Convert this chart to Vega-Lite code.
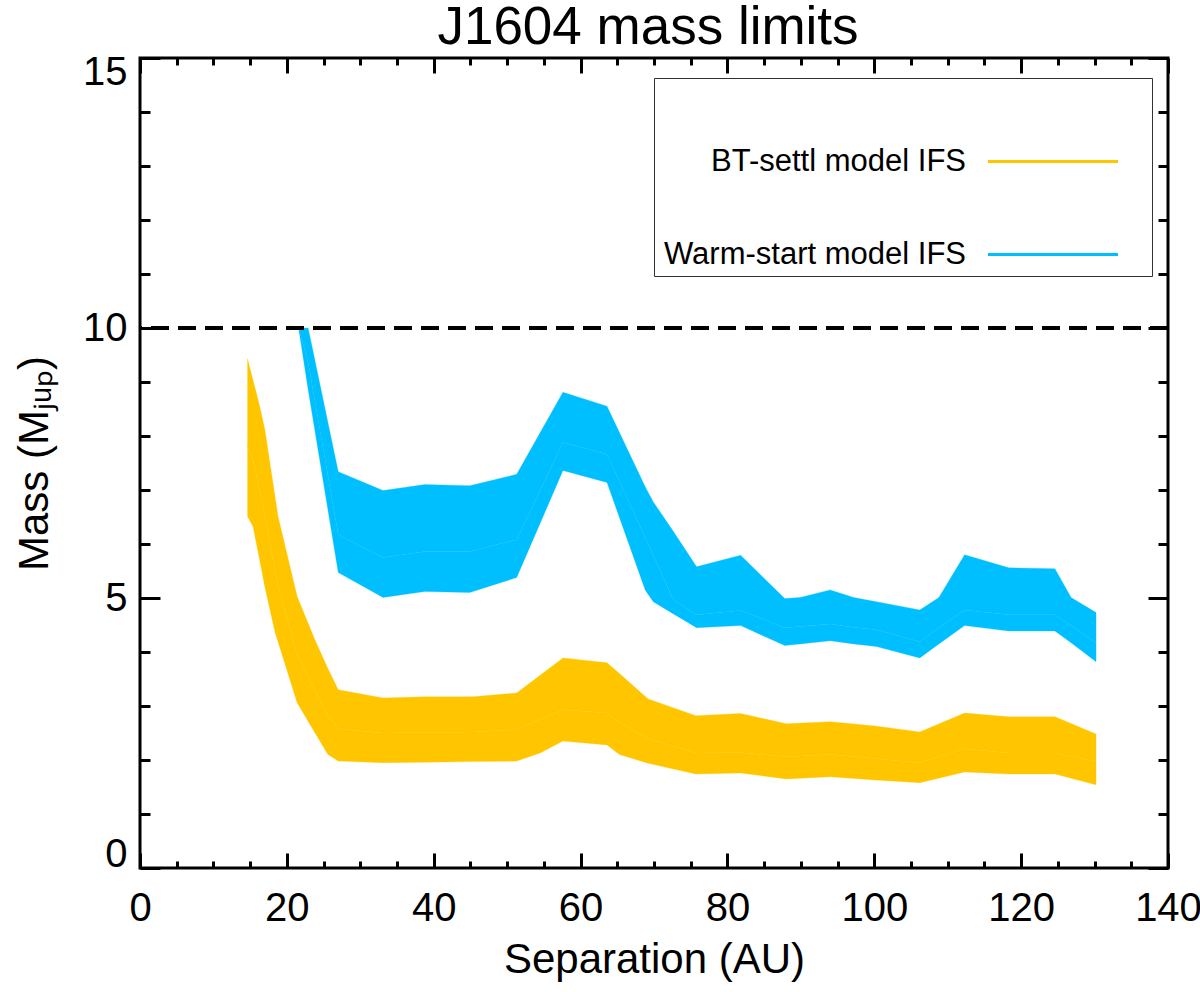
{
  "$schema": "https://vega.github.io/schema/vega-lite/v6.json",
  "width": 1028,
  "height": 810,
  "autosize": {"type": "none"},
  "padding": {"left": 140, "top": 58, "right": 32, "bottom": 124},
  "background": "white",
  "config": {
    "view": {"stroke": "black", "strokeWidth": 3},
    "font": "Liberation Sans",
    "axis": {
      "domain": false,
      "grid": false,
      "tickColor": "black",
      "tickWidth": 3,
      "labelColor": "black",
      "titleColor": "black",
      "labelFont": "Liberation Sans",
      "titleFont": "Liberation Sans",
      "labelFontSize": 40,
      "titleFontSize": 42,
      "titleFontWeight": "normal"
    },
    "legend": {
      "orient": "none",
      "legendX": 514,
      "legendY": 20,
      "direction": "vertical",
      "symbolType": "stroke",
      "symbolSize": 23104,
      "symbolStrokeWidth": 3,
      "symbolDash": [130, 100],
      "symbolOffset": 326.5,
      "labelOffset": -175.5,
      "labelAlign": "right",
      "labelFontSize": 31,
      "labelFont": "Liberation Sans",
      "labelColor": "black",
      "labelLimit": 600,
      "rowPadding": -60,
      "padding": 6,
      "strokeColor": "#333333",
      "fillColor": "white"
    }
  },
  "title": {
    "text": "J1604 mass limits",
    "fontSize": 53,
    "fontWeight": "normal",
    "font": "Liberation Sans",
    "color": "black",
    "offset": -3,
    "dx": -6
  },
  "data": {
    "values": [
      {"model": "BT-settl model IFS", "sep": 14.65, "lo": 6.51, "mid": 7.82, "hi": 9.43},
      {"model": "BT-settl model IFS", "sep": 15.4, "lo": 6.32, "mid": 7.54, "hi": 9.03},
      {"model": "BT-settl model IFS", "sep": 16.3, "lo": 5.70, "mid": 6.98, "hi": 8.55},
      {"model": "BT-settl model IFS", "sep": 17.0, "lo": 5.21, "mid": 6.52, "hi": 8.12},
      {"model": "BT-settl model IFS", "sep": 18.4, "lo": 4.36, "mid": 5.49, "hi": 6.87},
      {"model": "BT-settl model IFS", "sep": 18.8, "lo": 4.19, "mid": 5.23, "hi": 6.51},
      {"model": "BT-settl model IFS", "sep": 21.4, "lo": 3.06, "mid": 3.95, "hi": 5.03},
      {"model": "BT-settl model IFS", "sep": 23.8, "lo": 2.51, "mid": 3.28, "hi": 4.23},
      {"model": "BT-settl model IFS", "sep": 25.6, "lo": 2.10, "mid": 2.82, "hi": 3.69},
      {"model": "BT-settl model IFS", "sep": 27.0, "lo": 1.98, "mid": 2.58, "hi": 3.30},
      {"model": "BT-settl model IFS", "sep": 33.1, "lo": 1.95, "mid": 2.50, "hi": 3.15},
      {"model": "BT-settl model IFS", "sep": 38.8, "lo": 1.96, "mid": 2.51, "hi": 3.17},
      {"model": "BT-settl model IFS", "sep": 45.3, "lo": 1.97, "mid": 2.52, "hi": 3.17},
      {"model": "BT-settl model IFS", "sep": 51.3, "lo": 1.98, "mid": 2.56, "hi": 3.24},
      {"model": "BT-settl model IFS", "sep": 54.5, "lo": 2.13, "mid": 2.75, "hi": 3.57},
      {"model": "BT-settl model IFS", "sep": 57.6, "lo": 2.35, "mid": 2.93, "hi": 3.89},
      {"model": "BT-settl model IFS", "sep": 63.6, "lo": 2.28, "mid": 2.87, "hi": 3.80},
      {"model": "BT-settl model IFS", "sep": 65.3, "lo": 2.10, "mid": 2.70, "hi": 3.60},
      {"model": "BT-settl model IFS", "sep": 69.2, "lo": 1.94, "mid": 2.40, "hi": 3.13},
      {"model": "BT-settl model IFS", "sep": 75.7, "lo": 1.74, "mid": 2.13, "hi": 2.82},
      {"model": "BT-settl model IFS", "sep": 81.8, "lo": 1.76, "mid": 2.14, "hi": 2.86},
      {"model": "BT-settl model IFS", "sep": 88.0, "lo": 1.65, "mid": 2.06, "hi": 2.67},
      {"model": "BT-settl model IFS", "sep": 94.0, "lo": 1.69, "mid": 2.10, "hi": 2.71},
      {"model": "BT-settl model IFS", "sep": 100.1, "lo": 1.63, "mid": 2.03, "hi": 2.63},
      {"model": "BT-settl model IFS", "sep": 106.2, "lo": 1.58, "mid": 1.95, "hi": 2.52},
      {"model": "BT-settl model IFS", "sep": 112.3, "lo": 1.78, "mid": 2.21, "hi": 2.87},
      {"model": "BT-settl model IFS", "sep": 118.3, "lo": 1.74, "mid": 2.13, "hi": 2.80},
      {"model": "BT-settl model IFS", "sep": 124.6, "lo": 1.74, "mid": 2.13, "hi": 2.80},
      {"model": "BT-settl model IFS", "sep": 130.2, "lo": 1.54, "mid": 1.97, "hi": 2.48},
      {"model": "Warm-start model IFS", "sep": 21.6, "lo": 10.0, "mid": 10.0, "hi": 10.0},
      {"model": "Warm-start model IFS", "sep": 22.9, "lo": 8.86, "mid": 9.36, "hi": 10.0},
      {"model": "Warm-start model IFS", "sep": 27.0, "lo": 5.47, "mid": 6.17, "hi": 7.34},
      {"model": "Warm-start model IFS", "sep": 33.1, "lo": 5.01, "mid": 5.75, "hi": 6.99},
      {"model": "Warm-start model IFS", "sep": 38.8, "lo": 5.12, "mid": 5.86, "hi": 7.10},
      {"model": "Warm-start model IFS", "sep": 44.9, "lo": 5.10, "mid": 5.86, "hi": 7.08},
      {"model": "Warm-start model IFS", "sep": 51.3, "lo": 5.38, "mid": 6.08, "hi": 7.29},
      {"model": "Warm-start model IFS", "sep": 57.6, "lo": 7.36, "mid": 7.88, "hi": 8.81},
      {"model": "Warm-start model IFS", "sep": 63.6, "lo": 7.14, "mid": 7.66, "hi": 8.55},
      {"model": "Warm-start model IFS", "sep": 68.8, "lo": 5.15, "mid": 6.12, "hi": 7.06},
      {"model": "Warm-start model IFS", "sep": 69.9, "lo": 4.93, "mid": 5.79, "hi": 6.78},
      {"model": "Warm-start model IFS", "sep": 72.6, "lo": 4.71, "mid": 4.97, "hi": 6.24},
      {"model": "Warm-start model IFS", "sep": 75.8, "lo": 4.45, "mid": 4.69, "hi": 5.58},
      {"model": "Warm-start model IFS", "sep": 81.8, "lo": 4.49, "mid": 4.77, "hi": 5.79},
      {"model": "Warm-start model IFS", "sep": 87.8, "lo": 4.12, "mid": 4.45, "hi": 4.99},
      {"model": "Warm-start model IFS", "sep": 89.9, "lo": 4.15, "mid": 4.47, "hi": 5.01},
      {"model": "Warm-start model IFS", "sep": 94.0, "lo": 4.21, "mid": 4.52, "hi": 5.15},
      {"model": "Warm-start model IFS", "sep": 97.2, "lo": 4.15, "mid": 4.46, "hi": 5.01},
      {"model": "Warm-start model IFS", "sep": 100.3, "lo": 4.10, "mid": 4.41, "hi": 4.93},
      {"model": "Warm-start model IFS", "sep": 106.2, "lo": 3.89, "mid": 4.19, "hi": 4.78},
      {"model": "Warm-start model IFS", "sep": 108.8, "lo": 4.15, "mid": 4.45, "hi": 5.01},
      {"model": "Warm-start model IFS", "sep": 112.3, "lo": 4.49, "mid": 4.78, "hi": 5.80},
      {"model": "Warm-start model IFS", "sep": 118.3, "lo": 4.39, "mid": 4.69, "hi": 5.56},
      {"model": "Warm-start model IFS", "sep": 124.6, "lo": 4.39, "mid": 4.69, "hi": 5.54},
      {"model": "Warm-start model IFS", "sep": 126.8, "lo": 4.17, "mid": 4.49, "hi": 5.01},
      {"model": "Warm-start model IFS", "sep": 130.2, "lo": 3.82, "mid": 4.17, "hi": 4.73}
    ]
  },
  "layer": [
    {
      "mark": {"type": "area", "opacity": 1, "strokeWidth": 0.3},
      "encoding": {
        "x": {
          "field": "sep",
          "type": "quantitative",
          "scale": {"domain": [0, 140], "nice": false},
          "axis": {
            "orient": "bottom",
            "values": [0, 5, 10, 15, 20, 25, 30, 35, 40, 45, 50, 55, 60, 65, 70, 75, 80, 85, 90, 95, 100, 105, 110, 115, 120, 125, 130, 135, 140],
            "labelExpr": "datum.value % 20 === 0 ? datum.label : ''",
            "tickSize": {"condition": {"test": "datum.value % 20 === 0", "value": -15}, "value": -7},
            "labelPadding": 35,
            "labelFlush": false,
            "labelOverlap": false,
            "title": "Separation (AU)",
            "titlePadding": 3
          }
        },
        "y": {
          "field": "lo",
          "type": "quantitative",
          "scale": {"domain": [0, 15], "nice": false},
          "axis": {
            "orient": "left",
            "values": [0, 1, 2, 3, 4, 5, 6, 7, 8, 9, 10, 11, 12, 13, 14, 15],
            "labelExpr": "datum.value % 5 === 0 ? datum.label : ''",
            "tickSize": {"condition": {"test": "datum.value % 5 === 0", "value": -20}, "value": -10},
            "labelPadding": 33,
            "labelFlush": true,
            "labelFlushOffset": 6,
            "labelOverlap": false,
            "title": "Mass (Mⱼᵤₚ)",
            "titlePadding": 26
          }
        },
        "y2": {"field": "mid"},
        "color": {
          "field": "model",
          "type": "nominal",
          "title": null,
          "scale": {
            "domain": ["BT-settl model IFS", "Warm-start model IFS"],
            "range": ["#FFC600", "#00BFFF"]
          }
        },
        "stroke": {
          "field": "model",
          "type": "nominal",
          "title": null,
          "scale": {
            "domain": ["BT-settl model IFS", "Warm-start model IFS"],
            "range": ["#FFC600", "#00BFFF"]
          }
        }
      }
    },
    {
      "mark": {"type": "area", "opacity": 1, "strokeWidth": 0.3},
      "encoding": {
        "x": {
          "field": "sep",
          "type": "quantitative",
          "scale": {"domain": [0, 140], "nice": false},
          "axis": {
            "orient": "top",
            "values": [0, 5, 10, 15, 20, 25, 30, 35, 40, 45, 50, 55, 60, 65, 70, 75, 80, 85, 90, 95, 100, 105, 110, 115, 120, 125, 130, 135, 140],
            "labels": false,
            "tickSize": {"condition": {"test": "datum.value % 20 === 0", "value": -15}, "value": -7},
            "title": null
          }
        },
        "y": {
          "field": "mid",
          "type": "quantitative",
          "scale": {"domain": [0, 15], "nice": false},
          "axis": {
            "orient": "right",
            "values": [0, 1, 2, 3, 4, 5, 6, 7, 8, 9, 10, 11, 12, 13, 14, 15],
            "labels": false,
            "tickSize": {"condition": {"test": "datum.value % 5 === 0", "value": -20}, "value": -10},
            "title": null
          }
        },
        "y2": {"field": "hi"},
        "color": {"field": "model", "type": "nominal", "title": null},
        "stroke": {"field": "model", "type": "nominal", "title": null}
      }
    },
    {
      "mark": {"type": "rule", "strokeDash": [18, 9], "strokeWidth": 2.5, "color": "black"},
      "encoding": {
        "y": {"datum": 10, "type": "quantitative", "scale": {"domain": [0, 15], "nice": false}, "axis": null}
      }
    }
  ],
  "resolve": {"axis": {"x": "independent", "y": "independent"}}
}
